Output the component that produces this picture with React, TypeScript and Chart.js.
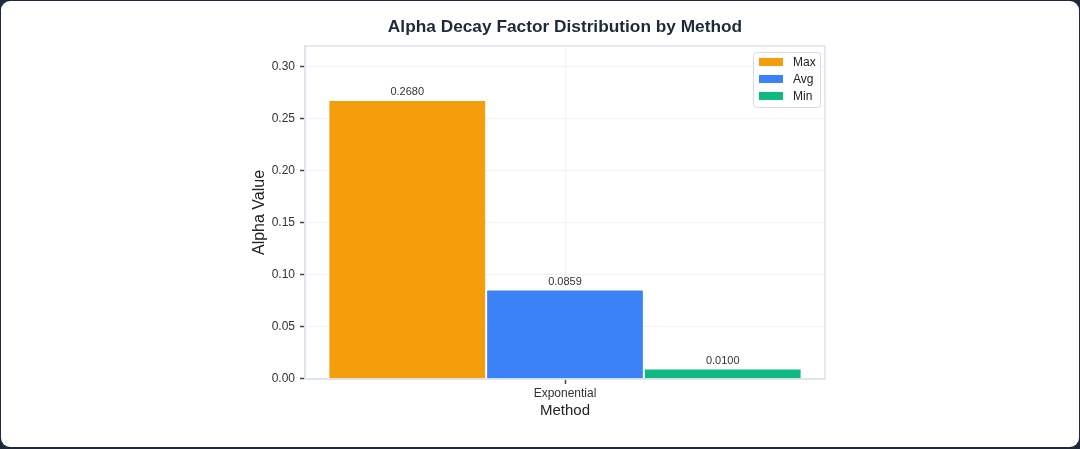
import React, { useEffect, useRef } from "react";
import { Chart, registerables } from "chart.js";

Chart.register(...registerables);

const categories = ["Exponential"];
const seriesNames = ["Max", "Avg", "Min"];
const maxValues = [0.268];
const avgValues = [0.0859];
const minValues = [0.01];
const seriesColors = ["#f59e0b", "#3b82f6", "#10b981"];
const yTickStep = 0.05;
const yMax = 0.32;

const FONT = "'Liberation Sans', Arial, Helvetica, sans-serif";

const valueLabels = {
  id: "valueLabels",
  afterDatasetsDraw(chart: any) {
    const ctx = chart.ctx;
    ctx.save();
    ctx.font = `11px ${FONT}`;
    ctx.fillStyle = "#333";
    ctx.textAlign = "center";
    ctx.textBaseline = "bottom";
    chart.data.datasets.forEach((ds: any, i: number) => {
      const meta = chart.getDatasetMeta(i);
      meta.data.forEach((el: any, j: number) => {
        const v = ds.data[j];
        ctx.fillText(Number(v).toFixed(4), el.x, el.y - 2.5);
      });
    });
    ctx.restore();
  },
};

const frameAndLegend = {
  id: "frameAndLegend",
  afterDraw(chart: any) {
    const ctx = chart.ctx;
    const a = chart.chartArea;
    ctx.save();
    ctx.strokeStyle = "#dde3ec";
    ctx.lineWidth = 1.5;
    ctx.strokeRect(a.left, a.top, a.right - a.left, a.bottom - a.top);

    // legend box
    const w = 67;
    const h = 55;
    const x = a.right - 5 - w;
    const y = a.top + 6;
    ctx.fillStyle = "rgba(255,255,255,0.9)";
    ctx.strokeStyle = "#d5dbe3";
    ctx.lineWidth = 1;
    ctx.beginPath();
    (ctx as any).roundRect(x + 0.5, y + 0.5, w, h, 3);
    ctx.fill();
    ctx.stroke();
    ctx.font = `12px ${FONT}`;
    ctx.textAlign = "left";
    ctx.textBaseline = "middle";
    chart.data.datasets.forEach((ds: any, i: number) => {
      const cy = y + 10 + i * 17;
      ctx.fillStyle = ds.backgroundColor;
      ctx.fillRect(x + 6, cy - 4, 24, 8);
      ctx.fillStyle = "#222";
      ctx.fillText(ds.label, x + 40, cy + 0.5);
    });
    ctx.restore();
  },
};

export default function App() {
  const ref = useRef<HTMLCanvasElement | null>(null);

  useEffect(() => {
    if (!ref.current) return;
    const allValues = [maxValues, avgValues, minValues];
    const chart = new Chart(ref.current, {
      type: "bar",
      data: {
        labels: categories,
        datasets: seriesNames.map((name, i) => ({
          label: name,
          data: allValues[i],
          backgroundColor: seriesColors[i],
          borderColor: "rgba(255,255,255,0.55)",
          borderWidth: 1,
          categoryPercentage: 0.91,
          barPercentage: 1,
        })),
      },
      options: {
        responsive: false,
        animation: false,
        maintainAspectRatio: false,
        layout: { padding: { left: 245, right: 254, top: 0, bottom: 28.6 } },
        plugins: {
          legend: { display: false },
          tooltip: { enabled: false },
          title: {
            display: true,
            fullSize: false,
            text: "Alpha Decay Factor Distribution by Method",
            color: "#1e293b",
            font: { family: FONT, size: 17.3, weight: "bold" },
            padding: { top: 15.6, bottom: 8.6 },
          },
        },
        scales: {
          x: {
            z: 1,
            grid: {
              offset: false,
              color: "rgba(226,232,240,0.55)",
              tickColor: "#444",
              tickWidth: 1.5,
              tickLength: 5,
            },
            border: { color: "#dde3ec", width: 1.5 },
            ticks: {
              color: "#333",
              padding: 2,
              font: { family: FONT, size: 12 },
            },
            title: {
              display: true,
              text: "Method",
              color: "#222",
              font: { family: FONT, size: 15, lineHeight: 16 / 15 },
              padding: { top: 0, bottom: 0 },
            },
          },
          y: {
            z: 1,
            min: 0,
            max: yMax,
            afterFit(scale: any) {
              scale.width = 59;
            },
            grid: {
              color: "rgba(226,232,240,0.55)",
              tickColor: "#444",
              tickWidth: 1.5,
              tickLength: 5,
            },
            border: { color: "#dde3ec", width: 1.5 },
            ticks: {
              stepSize: yTickStep,
              includeBounds: false,
              color: "#333",
              padding: 5,
              font: { family: FONT, size: 12 },
              callback: (v: any) => Number(v).toFixed(2),
            },
            title: {
              display: true,
              text: "Alpha Value",
              color: "#222",
              font: { family: FONT, size: 16 },
              padding: { top: 4, bottom: 4 },
            },
          },
        },
      },
      plugins: [valueLabels, frameAndLegend],
    } as any);
    return () => chart.destroy();
  }, []);

  return (
    <div
      style={{
        position: "fixed",
        inset: 0,
        background: "#1e293b",
      }}
    >
      <div
        style={{
          position: "absolute",
          left: 1,
          top: 1,
          width: 1078,
          height: 446,
          background: "#ffffff",
          borderRadius: 9,
          overflow: "hidden",
        }}
      >
        <canvas
          ref={ref}
          width={1078}
          height={446}
          style={{ display: "block", width: 1078, height: 446 }}
        />
      </div>
    </div>
  );
}
